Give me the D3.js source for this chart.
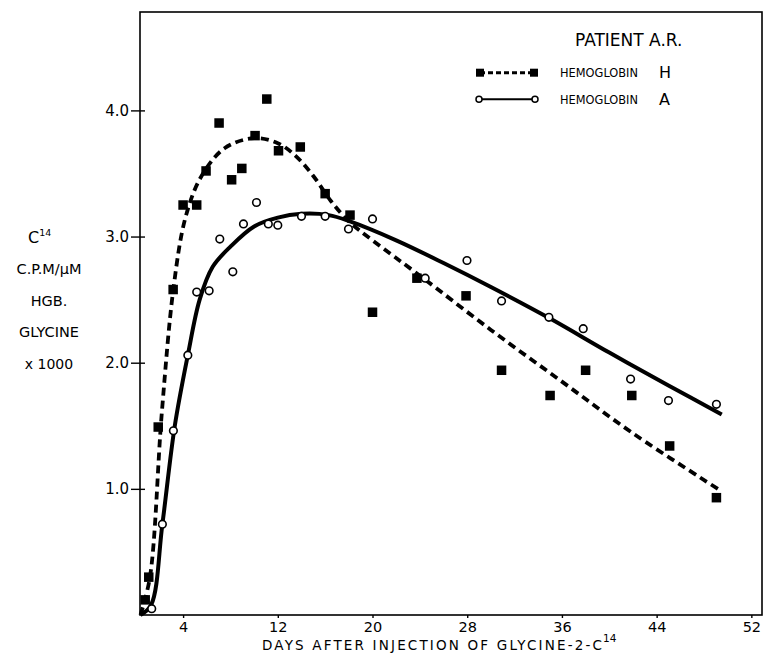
<!DOCTYPE html>
<html>
<head>
<meta charset="utf-8">
<script src="https://cdn.jsdelivr.net/npm/d3@7"></script>
<style>
  html, body { margin: 0; padding: 0; background: #fff; }
  svg { display: block; font-family: 'DejaVu Sans', sans-serif; }
</style>
</head>
<body>
<div id="chart"></div>
<script>
// measured points, hemoglobin H (filled squares) and A (open circles): [day, value]
const hgbH = [
  [0.8, 0.12], [1.1, 0.3], [1.9, 1.49], [3.16, 2.58], [4.0, 3.25], [5.15, 3.25],
  [5.94, 3.52], [7.04, 3.9], [8.1, 3.45], [8.96, 3.54], [10.08, 3.8], [11.07, 4.09],
  [12.06, 3.68], [13.9, 3.71], [16.0, 3.34], [18.1, 3.17], [20.0, 2.4], [23.75, 2.67],
  [27.9, 2.53], [30.9, 1.94], [35.0, 1.74], [38.0, 1.94], [41.9, 1.74], [45.1, 1.34],
  [49.05, 0.93]
];
const hgbA = [
  [1.35, 0.05], [2.25, 0.72], [3.18, 1.46], [4.4, 2.06], [5.15, 2.56], [6.2, 2.57],
  [7.1, 2.98], [8.2, 2.72], [9.1, 3.1], [10.2, 3.27], [11.2, 3.1], [12.0, 3.09],
  [14.0, 3.16], [16.0, 3.16], [17.97, 3.06], [20.0, 3.14], [24.45, 2.67], [27.98, 2.81],
  [30.9, 2.49], [34.9, 2.36], [37.8, 2.27], [41.8, 1.87], [45.0, 1.70], [49.05, 1.67]
];

// hand-drawn fitted curves
const curveH = [
  [0.4, 0], [1.2, 0.3], [2.2, 1.6], [3.2, 2.6], [4.2, 3.15], [5.5, 3.47], [7.5, 3.70],
  [10.0, 3.78], [12.0, 3.74], [13.5, 3.64], [15.0, 3.48], [16.5, 3.28], [18.0, 3.12],
  [20.0, 2.97], [24.0, 2.69], [30.0, 2.26], [36.0, 1.85], [42.0, 1.44], [49.5, 0.98]
];
const curveA = [
  [0.4, 0], [1.3, 0.08], [2.25, 0.72], [3.3, 1.5], [4.4, 2.06], [5.4, 2.5], [6.5, 2.76],
  [8.0, 2.92], [10.0, 3.08], [12.0, 3.15], [14.0, 3.18], [16.3, 3.17], [18.1, 3.12],
  [22.0, 2.97], [26.0, 2.79], [30.0, 2.6], [35.0, 2.35], [40.0, 2.08], [45.0, 1.82],
  [49.5, 1.59]
];

const xTicks = [4, 12, 20, 28, 36, 44, 52];
const yTicks = [1, 2, 3, 4];
const yTitle = ['C.P.M/\u03BCM', 'HGB.', 'GLYCINE', 'x 1000'];

const width = 765, height = 654;
const box = { left: 140, right: 762, top: 12, bottom: 615 };

const svg = d3.select('#chart').append('svg')
  .attr('width', width)
  .attr('height', height);

const x = d3.scaleLinear().domain([0.36, 52.9]).range([box.left, box.right]);
const y = d3.scaleLinear().domain([0, 4.78]).range([box.bottom, box.top]);

// frame
svg.append('rect')
  .attr('x', box.left).attr('y', box.top)
  .attr('width', box.right - box.left).attr('height', box.bottom - box.top)
  .attr('fill', 'none').attr('stroke', '#000').attr('stroke-width', 1.6);

// y axis: small crossing ticks
const yAxis = svg.append('g')
  .attr('transform', `translate(${box.left},0)`)
  .call(d3.axisLeft(y).tickValues(yTicks).tickFormat(d3.format('.1f')).tickSize(9).tickPadding(2));
yAxis.select('.domain').remove();
yAxis.selectAll('.tick line').attr('x1', 5).attr('stroke-width', 1.4);
yAxis.selectAll('.tick text')
  .attr('font-size', 15).attr('font-family', 'DejaVu Sans').attr('fill', '#000');

// x axis
const xAxis = svg.append('g')
  .attr('transform', `translate(0,${box.bottom})`)
  .call(d3.axisBottom(x).tickValues(xTicks).tickSize(3).tickPadding(4));
xAxis.select('.domain').remove();
xAxis.selectAll('.tick line').attr('stroke-width', 1.4);
xAxis.selectAll('.tick text')
  .attr('font-size', 14.5).attr('font-family', 'DejaVu Sans').attr('fill', '#000');

// x axis title, stretched to the width of the original lettering
svg.append('text')
  .attr('x', 262).attr('y', 650)
  .attr('font-size', 13.5)
  .attr('textLength', 340).attr('lengthAdjust', 'spacing')
  .text('DAYS AFTER INJECTION OF GLYCINE-2-C');
svg.append('text')
  .attr('x', 603).attr('y', 642)
  .attr('font-size', 10.5)
  .text('14');

// y axis title
const ttl = svg.append('text').attr('x', 28).attr('y', 243).attr('font-size', 16);
ttl.append('tspan').text('C');
ttl.append('tspan').attr('font-size', 9.5).attr('dy', -7).text('14');
svg.selectAll('text.ytitle')
  .data(yTitle)
  .join('text')
  .attr('class', 'ytitle')
  .attr('x', 49)
  .attr('y', (d, i) => 274 + i * 31.5)
  .attr('text-anchor', 'middle')
  .attr('font-size', d => d === 'x 1000' ? 14 : 14.5)
  .text(d => d);

// fitted curves
const line = d3.line()
  .x(d => x(d[0]))
  .y(d => y(d[1]))
  .curve(d3.curveCatmullRom.alpha(0.5));

svg.append('path')
  .datum(curveH)
  .attr('d', line)
  .attr('fill', 'none')
  .attr('stroke', '#000')
  .attr('stroke-width', 3.8)
  .attr('stroke-dasharray', '8,5');

svg.append('path')
  .datum(curveA)
  .attr('d', line)
  .attr('fill', 'none')
  .attr('stroke', '#000')
  .attr('stroke-width', 4);

// markers
const sq = 9.5;
svg.selectAll('rect.h')
  .data(hgbH)
  .join('rect')
  .attr('class', 'h')
  .attr('x', d => x(d[0]) - sq / 2)
  .attr('y', d => y(d[1]) - sq / 2)
  .attr('width', sq).attr('height', sq)
  .attr('fill', '#000');

svg.selectAll('circle.a')
  .data(hgbA)
  .join('circle')
  .attr('class', 'a')
  .attr('cx', d => x(d[0]))
  .attr('cy', d => y(d[1]))
  .attr('r', 3.8)
  .attr('fill', '#fff')
  .attr('stroke', '#000')
  .attr('stroke-width', 1.6);

// legend
svg.append('text')
  .attr('x', 575).attr('y', 46)
  .attr('font-size', 17)
  .text('PATIENT A.R.');

const leg = svg.append('g');
leg.append('line')
  .attr('x1', 480).attr('x2', 534).attr('y1', 72.7).attr('y2', 72.7)
  .attr('stroke', '#000').attr('stroke-width', 3).attr('stroke-dasharray', '5,3');
[480, 534].forEach(px => {
  leg.append('rect')
    .attr('x', px - 4).attr('y', 72.7 - 4)
    .attr('width', 8).attr('height', 8).attr('fill', '#000');
});
leg.append('line')
  .attr('x1', 479).attr('x2', 535).attr('y1', 99.3).attr('y2', 99.3)
  .attr('stroke', '#000').attr('stroke-width', 2);
[479, 535].forEach(px => {
  leg.append('circle')
    .attr('cx', px).attr('cy', 99.3).attr('r', 3)
    .attr('fill', '#fff').attr('stroke', '#000').attr('stroke-width', 1.5);
});

[['H', 78], ['A', 105]].forEach(([k, by]) => {
  leg.append('text')
    .attr('x', 560).attr('y', by - 1)
    .attr('font-size', 12.5)
    .attr('textLength', 78).attr('lengthAdjust', 'spacingAndGlyphs')
    .text('HEMOGLOBIN');
  leg.append('text')
    .attr('x', 659).attr('y', by)
    .attr('font-size', 16)
    .text(k);
});
</script>
</body>
</html>
